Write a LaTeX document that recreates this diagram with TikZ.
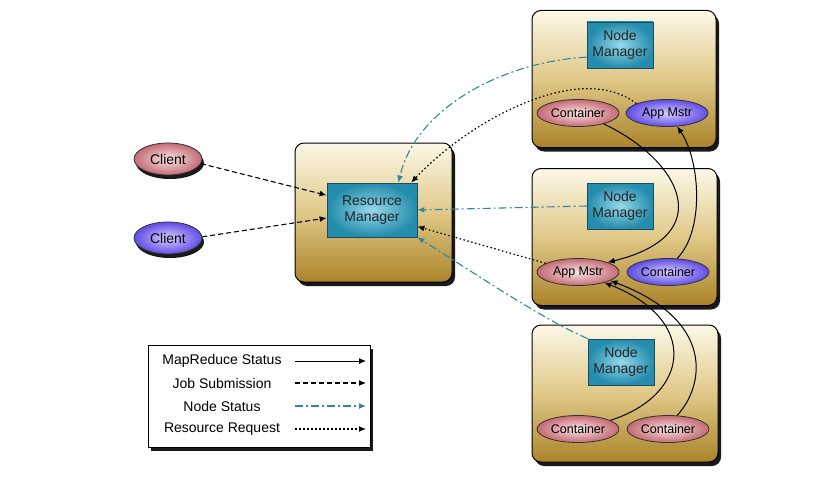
\documentclass[tikz,border=0pt]{standalone}
\usepackage{fontspec}
\setmainfont{Liberation Sans}
\usepackage{xcolor}
\usepackage{tikz}
\usetikzlibrary{arrows.meta,shadows,shapes.geometric}

\definecolor{tanlight}{RGB}{252,248,232}
\definecolor{tanmid}{RGB}{224,200,136}
\definecolor{tandark}{RGB}{170,132,42}
\definecolor{tealin}{RGB}{150,216,234}
\definecolor{tealout}{RGB}{36,140,172}
\definecolor{tealedge}{RGB}{28,76,96}
\definecolor{pinkin}{RGB}{250,230,230}
\definecolor{pinkout}{RGB}{196,106,116}
\definecolor{bluein}{RGB}{214,206,255}
\definecolor{blueout}{RGB}{96,76,228}
\definecolor{statusteal}{RGB}{48,136,160}

\newcommand\lblfont{\fontsize{14}{16}\selectfont}
\newcommand\ovalfont{\fontsize{12.5}{14}\selectfont}

\tikzset{
  hostbox/.style={draw=black, line width=1pt, rounded corners=9pt,
    top color=tanlight, bottom color=tandark, middle color=tanmid,
    drop shadow={shadow xshift=3pt, shadow yshift=-4pt, fill=black, opacity=.9}},
  mgrbox/.style={draw=tealedge, line width=.8pt, inner color=tealin, outer color=tealout,
    align=center, font=\lblfont, text=black!85, inner sep=0pt,
    minimum width=66pt, minimum height=46pt},
  pinkoval/.style={ellipse, draw=black!80, line width=.8pt, inner color=pinkin, outer color=pinkout,
    font=\ovalfont, inner sep=0pt, minimum width=82pt, minimum height=27pt},
  blueoval/.style={pinkoval, inner color=bluein, outer color=blueout},
  clientshadow/.style={drop shadow={shadow xshift=2pt, shadow yshift=-4pt, fill=black, opacity=.9},
    font=\lblfont, minimum width=68pt, minimum height=32pt},
  legendbox/.style={draw=black, line width=1pt, fill=white,
    drop shadow={shadow xshift=3pt, shadow yshift=-4pt, fill=black, opacity=.9}},
  legendtext/.style={font=\lblfont, anchor=center, inner sep=0pt},
  mrstatus/.style={-{Latex[length=7pt,width=6pt]}, line width=1pt},
  jobsub/.style={-{Latex[length=7pt,width=6pt]}, line width=1.1pt, dash pattern=on 5pt off 3pt},
  nodestat/.style={-{Latex[length=7pt,width=6pt]}, line width=1.1pt, draw=statusteal,
    dash pattern=on 8pt off 3pt on 2pt off 3pt},
  resreq/.style={-{Latex[length=7pt,width=6pt]}, line width=1.2pt, dash pattern=on 1.5pt off 2.5pt},
}

\begin{document}
\begin{tikzpicture}[x=1pt, y=-1pt]
        \useasboundingbox (0,0) rectangle (824,487);

        \node[hostbox, minimum width=184pt, minimum height=137pt] (hosttop) at (624,79) {};
        \node[hostbox, minimum width=185pt, minimum height=137pt] (hostmid) at (624.5,237) {};
        \node[hostbox, minimum width=186pt, minimum height=137pt] (hostbot) at (625,393.5) {};
        \node[hostbox, minimum width=157pt, minimum height=139pt] (rmhost) at (373.5,212.5) {};

        \node[mgrbox] (nmtop) at (620,45) {Node\\Manager};
        \node[mgrbox] (nmmid) at (620,206) {Node\\Manager};
        \node[mgrbox] (nmbot) at (621,362) {Node\\Manager};
        \node[mgrbox, minimum width=90pt, minimum height=54pt] (rm) at (372,210) {Resource\\Manager};

        \node[pinkoval] (topco) at (578,113) {Container};
        \node[blueoval] (topam) at (667,113) {App Mstr};
        \node[pinkoval] (midam) at (578,272) {App Mstr};
        \node[blueoval] (midco) at (668,272) {Container};
        \node[pinkoval] (botco) at (578,429) {Container};
        \node[pinkoval] (botcob) at (668,429) {Container};

        \node[pinkoval, clientshadow] (clpink) at (168,159) {Client};
        \node[blueoval, clientshadow] (clblue) at (168,238) {Client};

        % legend
        \node[legendbox, minimum width=222pt, minimum height=102pt] (legend) at (259,396) {};
        \node[legendtext] (lgmr) at (222,361) {MapReduce Status};
        \node[legendtext] (lgjob) at (222,383) {Job Submission};
        \node[legendtext] (lgnode) at (222,406) {Node Status};
        \node[legendtext] (lgres) at (222,429) {Resource Request};
        \coordinate (lgmra) at (295,361);  \coordinate (lgmrb) at (366,361);
        \coordinate (lgjoba) at (295,383); \coordinate (lgjobb) at (366,383);
        \coordinate (lgnodea) at (295,406); \coordinate (lgnodeb) at (366,406);
        \coordinate (lgresa) at (295,429); \coordinate (lgresb) at (366,429);
        \draw[mrstatus] (lgmra) -- (lgmrb);
        \draw[jobsub] (lgjoba) -- (lgjobb);
        \draw[nodestat] (lgnodea) -- (lgnodeb);
        \draw[resreq] (lgresa) -- (lgresb);

        % job submission
        \draw[jobsub] (clpink.-8) -- (rm.162);
        \draw[jobsub] (clblue.2) -- (rm.190);

        % node status
        \draw[nodestat] (nmtop.200) .. controls (500,62) and (415,110) .. (rm.46);
        \draw[nodestat] (nmmid.west) -- (rm.east);
        \draw[nodestat] (nmbot.north west) .. controls (540,318) and (470,270) .. (rm.south east);

        % resource request
        \draw[resreq] (topam.163) .. controls (580,60) and (470,120) .. (rm.35);
        \draw[resreq] (midam.165) -- (rm.-20);

        % mapreduce status
        \draw[mrstatus] (topco.-23) .. controls (680,160) and (720,235) .. (midam.18);
        \draw[mrstatus] (midco.56) .. controls (705,230) and (700,160) .. (topam.-53);
        \draw[mrstatus] (botco.15) .. controls (690,395) and (700,320) .. (midam.-22);
        \draw[mrstatus] (botcob.56) .. controls (705,385) and (715,320) .. (midam.-15);
    \end{tikzpicture}
\end{document}
